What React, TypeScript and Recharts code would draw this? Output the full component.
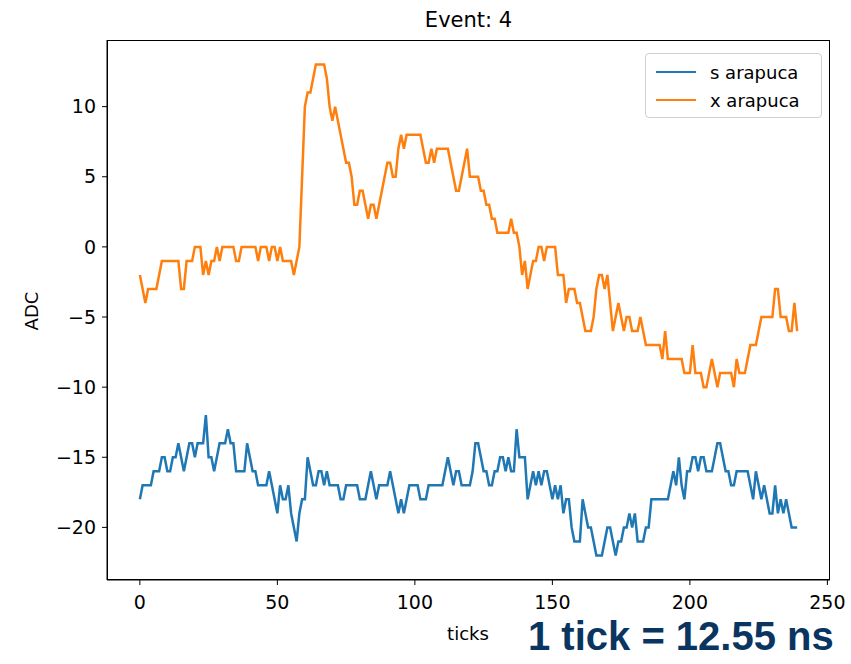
import React from 'react';
import { LineChart, Line, XAxis, YAxis } from 'recharts';

// s arapuca (blue), one value per tick 0..239
const sArapuca = [
  -18, -17, -17, -17, -17, -16, -16, -16, -15, -15,
  -16, -16, -15, -15, -14, -15, -16, -15, -14, -14,
  -15, -14, -14, -14, -12, -15, -15, -16, -15, -14,
  -14, -14, -13, -14, -14, -16, -16, -16, -16, -14,
  -15, -16, -16, -17, -17, -17, -17, -16, -17, -18,
  -19, -17, -18, -18, -17, -19, -20, -21, -19, -18,
  -18, -15, -16, -17, -17, -16, -16, -17, -16, -17,
  -17, -17, -17, -18, -18, -17, -17, -17, -17, -17,
  -18, -18, -18, -17, -16, -17, -18, -17, -17, -17,
  -17, -16, -17, -18, -19, -18, -19, -18, -17, -17,
  -17, -17, -18, -18, -18, -17, -17, -17, -17, -17,
  -17, -16, -15, -16, -17, -16, -16, -17, -17, -17,
  -17, -16, -14, -14, -15, -16, -16, -17, -17, -16,
  -16, -15, -15, -16, -15, -16, -16, -13, -15, -15,
  -15, -18, -17, -16, -17, -16, -17, -16, -16, -17,
  -18, -17, -18, -17, -19, -18, -18, -20, -21, -21,
  -21, -18, -19, -20, -20, -21, -22, -22, -22, -21,
  -20, -20, -21, -22, -21, -21, -20, -20, -19, -20,
  -19, -21, -21, -21, -20, -20, -18, -18, -18, -18,
  -18, -18, -18, -17, -16, -17, -15, -17, -18, -16,
  -16, -15, -15, -16, -15, -15, -16, -16, -16, -15,
  -14, -14, -15, -16, -16, -17, -17, -16, -16, -16,
  -16, -16, -17, -18, -16, -17, -18, -17, -18, -19,
  -19, -17, -19, -18, -19, -18, -19, -20, -20, -20,
];

// x arapuca (orange)
const xArapuca = [
  -2, -3, -4, -3, -3, -3, -3, -2, -1, -1,
  -1, -1, -1, -1, -1, -3, -3, -1, -1, -1,
  0, 0, 0, -2, -1, -2, -1, -1, 0, -1,
  0, 0, 0, 0, 0, -1, -1, 0, 0, 0,
  0, 0, 0, -1, 0, 0, 0, -1, 0, 0,
  -1, 0, -1, -1, -1, -1, -2, -1, 0, 5,
  10, 11, 11, 12, 13, 13, 13, 13, 12, 10,
  9, 10, 9, 8, 7, 6, 6, 5, 3, 3,
  4, 4, 3, 2, 3, 3, 2, 3, 4, 5,
  6, 6, 5, 5, 7, 8, 7, 8, 8, 8,
  8, 8, 8, 7, 6, 6, 7, 6, 7, 7,
  7, 7, 7, 6, 5, 4, 4, 5, 6, 7,
  5, 5, 5, 5, 4, 4, 3, 3, 2, 2,
  1, 1, 1, 1, 1, 2, 1, 1, 0, -2,
  -1, -3, -2, -1, -1, 0, 0, -1, 0, 0,
  0, 0, -2, -2, -2, -4, -3, -3, -3, -4,
  -4, -5, -6, -6, -6, -5, -3, -2, -2, -3,
  -2, -4, -6, -5, -4, -5, -6, -5, -5, -6,
  -6, -6, -5, -6, -7, -7, -7, -7, -7, -7,
  -8, -6, -8, -8, -8, -8, -8, -8, -9, -9,
  -9, -7, -9, -9, -9, -10, -10, -9, -8, -9,
  -10, -9, -9, -9, -9, -9, -10, -8, -9, -9,
  -9, -8, -7, -7, -7, -6, -5, -5, -5, -5,
  -5, -3, -3, -5, -5, -5, -6, -6, -4, -6,
];

const xTicks = [0, 50, 100, 150, 200, 250];
const yTicks = [-20, -15, -10, -5, 0, 5, 10];
const seriesNames = ['s arapuca', 'x arapuca'];

const data = sArapuca.map((s, i) => ({ tick: i, s, x: xArapuca[i] }));

const FONT = '"DejaVu Sans", sans-serif';
const BLUE = '#1f77b4';
const ORANGE = '#ff7f0e';

const fmt = (v: number) => (v < 0 ? '\u2212' + Math.abs(v) : String(v));

const LegendBox = () => (
  <div style={{ position: 'absolute', left: 645, top: 53, width: 177, height: 65, boxSizing: 'border-box', border: '1px solid #d0d0d0', borderRadius: 4, background: '#fff', padding: '4px 10px', fontSize: 18 }}>
    {[BLUE, ORANGE].map((c, i) => (
      <div key={c} style={{ display: 'flex', alignItems: 'center', height: 28 }}>
        <span style={{ display: 'inline-block', width: 40, height: 2.5, background: c, marginRight: 14 }} />
        <span style={{ color: '#000' }}>{seriesNames[i]}</span>
      </div>
    ))}
  </div>
);

export default function App() {
  return (
    <div style={{ position: 'absolute', left: 0, top: 0, width: 851, height: 664, background: '#fff', fontFamily: FONT }}>
      <div style={{ position: 'absolute', left: 107, width: 723, top: 8, textAlign: 'center', fontSize: 21, color: '#000' }}>Event: 4</div>
      <LineChart width={851} height={664} data={data} margin={{ top: 40, right: 21, left: 0, bottom: 0 }}>
        <XAxis
          type="number"
          dataKey="tick"
          domain={[-11.95, 250.95]}
          ticks={xTicks}
          allowDataOverflow
          height={84}
          tickSize={5}
          tickMargin={11}
          stroke="#000"
          tick={{ fill: '#000', fontSize: 19, fontFamily: FONT }}
        />
        <YAxis
          type="number"
          domain={[-23.75, 14.75]}
          ticks={yTicks}
          allowDataOverflow
          width={107}
          tickSize={5}
          tickMargin={6}
          stroke="#000"
          tickFormatter={fmt}
          tick={{ fill: '#000', fontSize: 19, fontFamily: FONT }}
        />
        <Line type="linear" dataKey="s" name={seriesNames[0]} stroke={BLUE} strokeWidth={2.5} dot={false} isAnimationActive={false} />
        <Line type="linear" dataKey="x" name={seriesNames[1]} stroke={ORANGE} strokeWidth={2.5} dot={false} isAnimationActive={false} />
      </LineChart>
      {/* axes frame (matplotlib spines) */}
      <div style={{ position: 'absolute', left: 107, top: 40, width: 723, height: 540, boxSizing: 'border-box', border: '1px solid #000', pointerEvents: 'none' }} />
      <LegendBox />
      <div style={{ position: 'absolute', left: 468, top: 633, transform: 'translate(-50%, -50%)', fontSize: 18, color: '#000' }}>ticks</div>
      <div style={{ position: 'absolute', left: 31, top: 311, transform: 'translate(-50%, -50%) rotate(-90deg)', fontSize: 18, color: '#000' }}>ADC</div>
      <div style={{ position: 'absolute', left: 528, top: 612, fontFamily: '"Liberation Sans", Arial, sans-serif', fontWeight: 'bold', fontSize: 40, color: '#0a3561', whiteSpace: 'nowrap', lineHeight: '48px' }}>1 tick = 12.55 ns</div>
    </div>
  );
}
